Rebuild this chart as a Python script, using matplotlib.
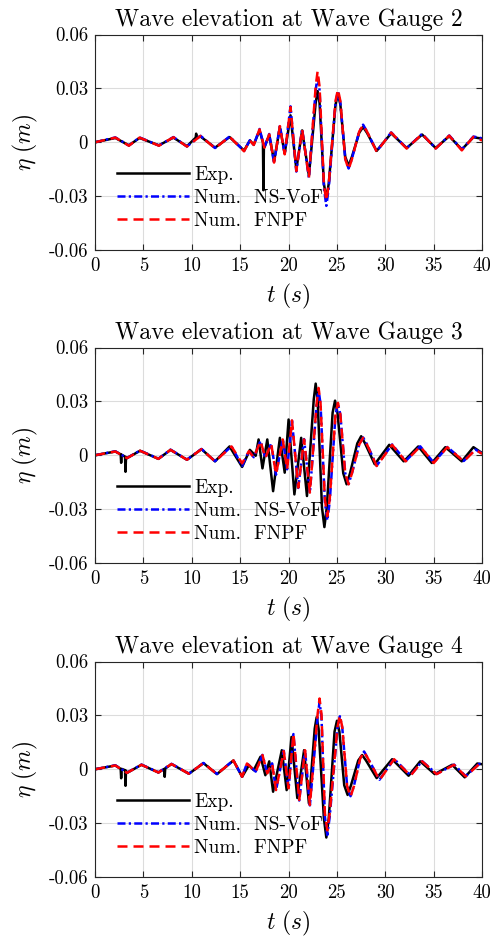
import numpy as np
import matplotlib
matplotlib.use("Agg")
import matplotlib.pyplot as plt

# ---------------------------------------------------------
# Wave elevation at gauges 2-4: experiment vs two numerical models
# ---------------------------------------------------------

plt.rcParams['font.family'] = 'serif'
plt.rcParams['font.serif'] = ['cmr10']
plt.rcParams['mathtext.fontset'] = 'cm'
plt.rcParams['axes.unicode_minus'] = False
plt.rcParams['axes.formatter.use_mathtext'] = True

xticks = [0, 5, 10, 15, 20, 25, 30, 35, 40]
yticks = [-0.06, -0.03, 0, 0.03, 0.06]
ytick_labels = ['-0.06', '-0.03', '0', '0.03', '0.06']
titles = ['Wave elevation at Wave Gauge 2',
          'Wave elevation at Wave Gauge 3',
          'Wave elevation at Wave Gauge 4']
labels = ['Exp.', 'Num.  NS-VoF', 'Num.  FNPF']

# --- Gauge 2 ---
g2_t_num = [0, 2.1, 3.5, 4.6, 6.6, 8.1, 9.5, 10.9, 12.4, 13.9, 15.4, 16.0, 16.4, 17.0,
            17.5, 18.0, 18.5, 19.1, 19.6, 20.2, 20.8, 21.4, 22.1,
            22.8, 23.0, 23.2, 23.65, 23.9, 24.15, 24.85, 25.1, 25.35,
            25.85, 26.2, 26.55, 27.3, 27.7, 28.1,
            29.1, 30.6, 32.2, 33.8, 35.2, 36.6, 37.9, 39.1, 40.0]
g2_fnpf = [0, .0026, -.0019, .0026, -.0019, .0028, -.0024, .0035, -.0033, .0031, -.0050,
           .0010, -.0015, .0072, -.0030, .0044, -.0113, .0090, -.0067, .0196, -.0160,
           .0072, -.0196,
           .0310, .0396, .0310, -.0235, -.0326, -.0235, .0230, .0294, .0230,
           -.0093, -.0150, -.0093, .0060, .0096, .0060,
           -.0052, .0054, -.0035, .0046, -.0035, .0037, -.0045, .0030, .0010]
g2_vof = [0, .0027, -.0018, .0027, -.0018, .0029, -.0023, .0036, -.0032, .0032, -.0048,
          .0011, -.0014, .0074, -.0029, .0046, -.0116, .0093, -.0066, .0200, -.0163,
          .0074, -.0198,
          .0290, .0369, .0290, -.0255, -.0354, -.0255, .0220, .0285, .0220,
          -.0090, -.0146, -.0090, .0060, .0098, .0060,
          -.0050, .0055, -.0033, .0047, -.0034, .0038, -.0040, .0032, .0022]
g2_t_exp = [0, 2.1, 3.5, 4.6, 6.6, 8.1, 9.5, 10.4, 10.45, 10.5, 10.9, 12.4, 13.9, 15.4,
            16.0, 16.4, 17.0, 17.35, 17.4, 17.45, 17.5, 18.0, 18.5, 19.1, 19.6, 20.2,
            20.8, 21.4, 22.1,
            22.8, 23.0, 23.2, 23.65, 23.9, 24.15, 24.85, 25.1, 25.35,
            25.85, 26.2, 26.55, 27.3, 27.7, 28.1,
            29.1, 30.6, 32.2, 33.8, 35.2, 36.6, 37.9, 39.1, 40.0]
g2_exp = [0, .0024, -.0017, .0024, -.0017, .0026, -.0022, .0026, .0048, .0027, .0032,
          -.0030, .0029, -.0046, .0010, -.0013, .0066, -.0001, -.0267, -.0015, -.0028,
          .0040, -.0105, .0083, -.0062, .0150, -.0150, .0066, -.0185,
          .0220, .0285, .0220, -.0230, -.0317, -.0230, .0210, .0270, .0210,
          -.0080, -.0131, -.0080, .0053, .0085, .0053,
          -.0048, .0050, -.0032, .0043, -.0032, .0034, -.0040, .0028, .0020]

# --- Gauge 3 ---
g3_t_num = [0, 2.1, 3.3, 4.65, 6.55, 7.8, 9.5, 11.0, 12.4, 14.1, 15.2, 15.9, 16.4, 17.1,
            17.6, 18.2, 18.7, 19.4, 19.85, 20.35, 21.0, 21.6, 22.2,
            22.9, 23.1, 23.3, 23.75, 24.0, 24.25, 24.85, 25.1, 25.35,
            25.85, 26.2, 26.55, 27.3, 27.7, 28.1,
            29.1, 30.7, 32.1, 33.6, 35.0, 36.4, 38.1, 39.3, 40.0]
g3_fnpf = [0, .0021, -.0016, .0025, -.0020, .0030, -.0025, .0034, -.0034, .0049, -.0045,
           .0023, -.0012, .0079, -.0015, .0065, -.0106, .0088, -.0079, .0194, -.0180,
           .0088, -.0208,
           .0290, .0375, .0290, -.0245, -.0340, -.0245, .0228, .0292, .0228,
           -.0100, -.0162, -.0100, .0060, .0097, .0060,
           -.0060, .0058, -.0034, .0049, -.0043, .0045, -.0034, .0030, .0008]
g3_vof = [0, .0022, -.0015, .0026, -.0019, .0031, -.0024, .0035, -.0033, .0050, -.0060,
          .0024, -.0011, .0080, -.0016, .0066, -.0108, .0090, -.0078, .0192, -.0182,
          .0090, -.0210,
          .0285, .0365, .0285, -.0260, -.0363, -.0260, .0225, .0288, .0225,
          -.0099, -.0160, -.0099, .0061, .0099, .0061,
          -.0058, .0060, -.0032, .0050, -.0041, .0046, -.0032, .0032, .0010]
g3_t_exp = [0, 2.1, 2.65, 2.7, 2.75, 3.1, 3.15, 3.2, 3.3, 4.65, 6.55, 7.8, 9.5, 11.0,
            12.4, 13.9, 15.2, 16.0, 16.6, 16.9, 17.3, 17.8, 18.4, 19.1, 19.6, 20.0,
            20.6, 21.3, 21.9,
            22.6, 22.8, 23.0, 23.45, 23.7, 23.95, 24.55, 24.8, 25.05,
            25.65, 26.0, 26.35, 27.1, 27.5, 27.9,
            28.9, 30.4, 31.9, 33.4, 34.8, 36.2, 37.9, 39.1, 40.0]
g3_exp = [0, .0021, .0005, -.0042, .0003, -.0008, -.0092, -.0010, -.0016, .0025, -.0020,
          .0030, -.0025, .0034, -.0034, .0049, -.0065, .0030, -.0003, .0088, -.0073,
          .0088, -.0200, .0097, -.0097, .0199, -.0218, .0097, -.0227,
          .0310, .0399, .0310, -.0290, -.0400, -.0290, .0237, .0304, .0237,
          -.0100, -.0162, -.0100, .0066, .0106, .0066,
          -.0050, .0058, -.0034, .0049, -.0043, .0045, -.0034, .0045, .0012]

# --- Gauge 4 ---
g4_t_num = [0, 2.1, 3.3, 4.8, 6.55, 7.9, 9.7, 11.2, 12.6, 14.3, 15.2, 15.7, 16.6, 17.3,
            17.8, 18.3, 18.7, 19.5, 20.0, 20.5, 21.1, 21.7, 22.2,
            23.0, 23.2, 23.4, 23.75, 24.0, 24.25, 25.05, 25.3, 25.55,
            26.05, 26.4, 26.75, 27.4, 27.8, 28.2,
            29.4, 30.9, 32.6, 33.8, 35.3, 37.1, 38.3, 39.7, 40.0]
g4_fnpf = [0, .0021, -.0020, .0025, -.0018, .0029, -.0025, .0034, -.0027, .0049, -.0042,
           .0032, -.0014, .0079, -.0023, .0032, -.0116, .0101, -.0106, .0199, -.0171,
           .0106, -.0199,
           .0307, .0394, .0307, -.0245, -.0340, -.0245, .0234, .0300, .0234,
           -.0095, -.0153, -.0095, .0060, .0097, .0060,
           -.0060, .0056, -.0036, .0044, -.0027, .0025, -.0040, .0029, .0025]
g4_vof = [0, .0022, -.0019, .0026, -.0017, .0030, -.0024, .0035, -.0026, .0050, -.0041,
          .0033, -.0013, .0080, -.0022, .0033, -.0118, .0103, -.0108, .0196, -.0174,
          .0108, -.0201,
          .0290, .0375, .0290, -.0264, -.0366, -.0264, .0230, .0295, .0230,
          -.0093, -.0150, -.0093, .0061, .0099, .0061,
          -.0058, .0058, -.0034, .0045, -.0026, .0026, -.0038, .0030, .0027]
g4_t_exp = [0, 2.1, 2.65, 2.7, 2.75, 3.1, 3.15, 3.2, 3.3, 4.8, 6.55, 7.15, 7.2, 7.25,
            7.9, 9.7, 11.2, 12.6, 14.3, 15.2, 15.9, 16.4, 17.1, 17.6, 18.0, 18.4, 19.3,
            19.8, 20.3, 20.9, 21.6, 22.1,
            22.7, 22.9, 23.1, 23.65, 23.9, 24.15, 24.75, 25.0, 25.25,
            25.75, 26.1, 26.45, 27.2, 27.6, 28.0,
            29.1, 30.7, 32.4, 33.6, 35.1, 36.9, 38.2, 39.5, 40.0]
g4_exp = [0, .0021, .0002, -.0050, .0002, -.0005, -.0092, -.0008, -.0020, .0025, -.0018,
          .0002, -.0042, .0004, .0029, -.0025, .0034, -.0027, .0049, -.0042, .0023,
          -.0005, .0070, -.0033, .0044, -.0125, .0106, -.0116, .0180, -.0160, .0106,
          -.0190,
          .0226, .0290, .0226, -.0274, -.0380, -.0274, .0210, .0270, .0210,
          -.0089, -.0143, -.0089, .0049, .0079, .0049,
          -.0049, .0056, -.0036, .0044, -.0027, .0025, -.0045, .0032, .0028]

gauges = [
    (g2_t_exp, g2_exp, g2_t_num, g2_vof, g2_fnpf),
    (g3_t_exp, g3_exp, g3_t_num, g3_vof, g3_fnpf),
    (g4_t_exp, g4_exp, g4_t_num, g4_vof, g4_fnpf),
]

# ---------------------------------------------------------
# Plotting
# ---------------------------------------------------------
fig = plt.figure(figsize=(4.95, 9.41), dpi=100)
bottoms = [0.7343, 0.4017, 0.068]

for i, (t_exp, exp, t_num, vof, fnpf) in enumerate(gauges):
    ax = fig.add_axes([0.192, bottoms[i], 0.782, 0.2290])
    ax.plot(t_exp, exp, color='k', lw=1.8, label=labels[0])
    ax.plot(t_num, vof, color='b', lw=1.8, dashes=(3.2, 1.3, 0.9, 1.3), label=labels[1])
    ax.plot(t_num, fnpf, color='r', lw=1.8, dashes=(4, 2.4), label=labels[2])

    ax.set_xlim(0, 40)
    ax.set_ylim(-0.06, 0.06)
    ax.set_xticks(xticks)
    ax.set_xticklabels([str(x) for x in xticks])
    ax.set_yticks(yticks)
    ax.set_yticklabels(ytick_labels)
    ax.tick_params(direction='in', top=True, right=True, length=4,
                   labelsize=13.5, color='#262626', pad=5)
    ax.grid(True, color='#dcdcdc', lw=0.8)
    ax.set_axisbelow(True)
    for s in ax.spines.values():
        s.set_color('#262626')
        s.set_linewidth(0.8)

    ax.set_title(titles[i], fontsize=17, pad=6)
    ax.set_xlabel(r'$t\ (s)$', fontsize=17, labelpad=5)
    ax.set_ylabel(r'$\eta\ (m)$', fontsize=17, labelpad=6)

    ax.legend(loc='upper left', bbox_to_anchor=(0.056, 0.39), frameon=False,
              fontsize=14, handlelength=3.7, handletextpad=0.3,
              labelspacing=0.25, borderpad=0, borderaxespad=0)

fig.savefig('out.png', dpi=100)
